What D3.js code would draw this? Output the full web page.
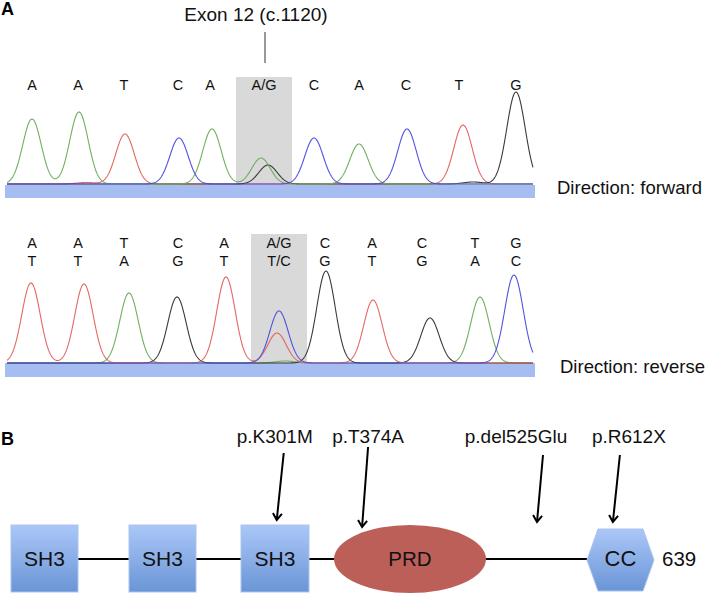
<!DOCTYPE html>
<html>
<head>
<meta charset="utf-8">
<script src="https://cdn.jsdelivr.net/npm/d3@7"></script>
<style>
  html, body { margin: 0; padding: 0; background: #fff; }
  svg { display: block; font-family: "Liberation Sans", Arial, Helvetica, sans-serif; }
</style>
</head>
<body>
<svg id="chart" width="706" height="599"></svg>
<script>
// ---------------- DATA ----------------
// Forward read: base calls and their trace (scan) positions
const fwdCalls = ["A", "A", "T", "C", "A", "A/G", "C", "A", "C", "T", "G"];
const fwdCallScan = [27, 73, 119, 173, 205, 259, 309, 354, 401, 454, 511];
// Forward peaks per channel: [scan position, signal height]
const fwdPeaksA = [[27, 65], [74, 72], [207, 55], [256, 26], [354, 40]];
const fwdPeaksC = [[174, 46], [309, 46], [402, 55]];
const fwdPeaksG = [[263, 19], [468, 2], [511, 92]];
const fwdPeaksT = [[81, 1.5], [120, 50], [458, 59]];

// Reverse read: two rows of base calls
const revCallsTop = ["A", "A", "T", "C", "A", "A/G", "C", "A", "C", "T", "G"];
const revCallsBottom = ["T", "T", "A", "G", "T", "T/C", "G", "T", "G", "A", "C"];
const revCallScan = [27, 73, 119, 173, 219, 274, 320, 367, 417, 470, 511];
const revPeaksT = [[26, 80], [79, 79], [221, 86], [272, 30], [368, 63]];
const revPeaksA = [[124, 70], [280, 2], [475, 66]];
const revPeaksG = [[172, 66], [321, 92], [425, 45]];
const revPeaksC = [[274, 52], [509, 88]];

const variantIndex = 5;           // highlighted base call (c.1120 A/G)
const exonLabel = "Exon 12 (c.1120)";
const directionLabels = ["Direction: forward", "Direction: reverse"];

// Panel B: protein domains (amino-acid ranges) and mutations
const domainNames = ["SH3", "SH3", "SH3", "PRD", "CC"];
const domainShapes = ["rect", "rect", "rect", "ellipse", "hexagon"];
const domainStart = [1, 109, 270, 345, 595];
const domainEnd = [59, 168, 329, 502, 639];
const proteinLength = 639;
const mutationNames = ["p.K301M", "p.T374A", "p.del525Glu", "p.R612X"];
const mutationPos = [301, 374, 525, 612];

// ---------------- LAYOUT / STYLE ----------------
const svg = d3.select("#chart");
const colors = { A: "#6aaa58", C: "#4a4ae0", G: "#2f2f2f", T: "#e0605a" };
const sigma = 9.2;

const xScan = d3.scaleLinear().domain([0, 530]).range([5, 535]);
const panels = [
  { baseline: 184, barTop: 185, barBottom: 198, grayTop: 77 },
  { baseline: 363, barTop: 363, barBottom: 377, grayTop: 234 }
];

function traceValues(peaks) {
  const pts = [];
  for (let s = 2; s <= 528; s += 0.5) {
    let v = 0;
    peaks.forEach(([c, h]) => { v += h * Math.exp(-((s - c) ** 2) / (2 * sigma * sigma)); });
    pts.push([s, v]);
  }
  return pts;
}

function drawTrace(panel, channels, calls, callRows) {
  const y = d3.scaleLinear().domain([0, 100]).range([panel.baseline, panel.baseline - 100]);
  const cx = xScan(calls[variantIndex]);
  svg.append("rect")
    .attr("x", cx - 28).attr("width", 56)
    .attr("y", panel.grayTop).attr("height", panel.barTop - panel.grayTop)
    .attr("fill", "#d9d9d9");
  svg.append("rect")
    .attr("x", xScan(0)).attr("width", xScan(530) - xScan(0))
    .attr("y", panel.barTop).attr("height", panel.barBottom - panel.barTop)
    .attr("fill", "#a5bdf1");
  const line = d3.line().x(d => xScan(d[0])).y(d => y(d[1])).curve(d3.curveLinear);
  channels.forEach(ch => {
    svg.append("path")
      .datum(traceValues(ch.peaks))
      .attr("d", line)
      .attr("fill", "none")
      .attr("stroke", colors[ch.base])
      .attr("stroke-width", 1.1)
      .attr("opacity", 0.95);
  });
  callRows.forEach((row, ri) => {
    svg.append("g").selectAll("text").data(row).join("text")
      .attr("x", (d, i) => xScan(calls[i]))
      .attr("y", ri === 0 ? (callRows.length === 1 ? 90 : panel.grayTop + 14) : panel.grayTop + 32)
      .attr("text-anchor", "middle")
      .attr("font-size", 14.5)
      .attr("fill", "#111")
      .text(d => d);
  });
}

// Panel A label
svg.append("text").attr("x", 1).attr("y", 15).attr("font-size", 18).attr("font-weight", "bold").text("A");
svg.append("text").attr("x", 256).attr("y", 21).attr("text-anchor", "middle").attr("font-size", 19).attr("fill", "#111").text(exonLabel);
svg.append("line").attr("x1", xScan(fwdCallScan[variantIndex]) + 1).attr("x2", xScan(fwdCallScan[variantIndex]) + 1)
  .attr("y1", 32).attr("y2", 63).attr("stroke", "#333").attr("stroke-width", 1);

drawTrace(panels[0], [
  { base: "T", peaks: fwdPeaksT }, { base: "G", peaks: fwdPeaksG },
  { base: "A", peaks: fwdPeaksA }, { base: "C", peaks: fwdPeaksC }
], fwdCallScan, [fwdCalls]);

drawTrace(panels[1], [
  { base: "A", peaks: revPeaksA }, { base: "G", peaks: revPeaksG },
  { base: "T", peaks: revPeaksT }, { base: "C", peaks: revPeaksC }
], revCallScan, [revCallsTop, revCallsBottom]);

svg.append("text").attr("x", 557).attr("y", 194).attr("font-size", 18.5).attr("fill", "#111").text(directionLabels[0]);
svg.append("text").attr("x", 560).attr("y", 373).attr("font-size", 18.5).attr("fill", "#111").text(directionLabels[1]);

// ---------------- Panel B ----------------
svg.append("text").attr("x", 1).attr("y", 445).attr("font-size", 18).attr("font-weight", "bold").text("B");

// piecewise amino-acid -> x scale (diagram not drawn to scale)
const aa = d3.scaleLinear()
  .domain([1, 59, 109, 168, 270, 329, 345, 502, 525, 595, 639])
  .range([11, 78, 129, 196, 241, 309, 334, 486, 537, 587, 654]);
const yMid = 559;

const defs = svg.append("defs");
const grad = defs.append("linearGradient").attr("id", "blueGrad").attr("x1", 0).attr("y1", 0).attr("x2", 0).attr("y2", 1);
grad.append("stop").attr("offset", "0%").attr("stop-color", "#abc7f8");
grad.append("stop").attr("offset", "100%").attr("stop-color", "#6a95d6");

svg.append("line").attr("x1", aa(domainEnd[0])).attr("x2", aa(domainStart[4]))
  .attr("y1", yMid).attr("y2", yMid).attr("stroke", "#000").attr("stroke-width", 2);

const domainFont = [21, 21, 21, 20.5, 22];
domainNames.forEach((name, i) => {
  const x0 = aa(domainStart[i]), x1 = aa(domainEnd[i]);
  const cx = (x0 + x1) / 2;
  if (domainShapes[i] === "rect") {
    svg.append("rect").attr("x", x0).attr("y", 525).attr("width", x1 - x0).attr("height", 67)
      .attr("fill", "url(#blueGrad)").attr("stroke", "#a9c3ee").attr("stroke-width", 1);
  } else if (domainShapes[i] === "ellipse") {
    svg.append("ellipse").attr("cx", cx).attr("cy", yMid).attr("rx", (x1 - x0) / 2).attr("ry", 34)
      .attr("fill", "#bd5f59");
  } else {
    const h = 31, inset = 11;
    const pts = [[x0, yMid + 1], [x0 + inset, yMid + 1 - h], [x1 - inset, yMid + 1 - h], [x1, yMid + 1], [x1 - inset, yMid + 1 + h], [x0 + inset, yMid + 1 + h]];
    svg.append("polygon").attr("points", pts.map(p => p.join(",")).join(" "))
      .attr("fill", "url(#blueGrad)").attr("stroke", "#a9c3ee").attr("stroke-width", 1);
  }
  svg.append("text").attr("x", cx).attr("y", yMid + 7).attr("text-anchor", "middle")
    .attr("font-size", domainFont[i]).attr("fill", "#111").text(name);
});
svg.append("text").attr("x", aa(proteinLength) + 8).attr("y", yMid + 7).attr("font-size", 20.5).attr("fill", "#111").text(proteinLength);

// mutation arrows
const labelShift = [-2, 6, -21, 16];     // label centre relative to arrow tip
const tailShift = [7, 6, 6, 7];          // arrow tail x offset (slant)
const tipY = [520, 527, 522, 522];
const tailY = [453, 447, 455, 455];
mutationNames.forEach((name, i) => {
  const tx = aa(mutationPos[i]);
  const sx = tx + tailShift[i];
  svg.append("text").attr("x", tx + labelShift[i]).attr("y", 443).attr("text-anchor", "middle")
    .attr("font-size", 19).attr("fill", "#111").text(name);
  svg.append("line").attr("x1", sx).attr("y1", tailY[i]).attr("x2", tx).attr("y2", tipY[i])
    .attr("stroke", "#000").attr("stroke-width", 2);
  const ang = Math.atan2(tipY[i] - tailY[i], tx - sx);
  const L = 8, spread = 0.6;
  const a1 = ang + Math.PI - spread, a2 = ang + Math.PI + spread;
  svg.append("path")
    .attr("d", `M${tx + L * Math.cos(a1)},${tipY[i] + L * Math.sin(a1)} L${tx},${tipY[i]} L${tx + L * Math.cos(a2)},${tipY[i] + L * Math.sin(a2)}`)
    .attr("fill", "none").attr("stroke", "#000").attr("stroke-width", 2);
});
</script>
</body>
</html>
